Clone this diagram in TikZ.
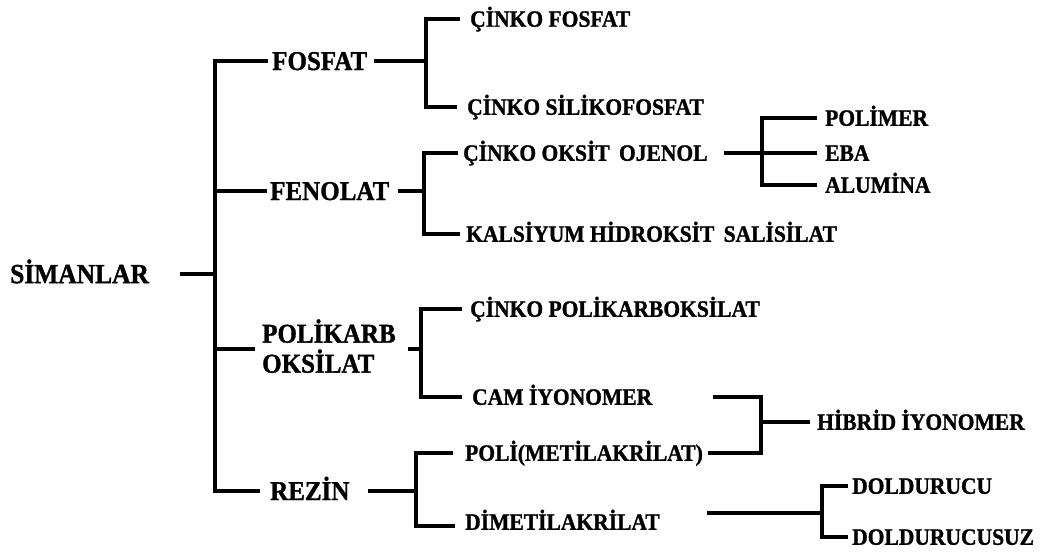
\documentclass[tikz,border=0pt]{standalone}
\usepackage{fontspec}
\setmainfont{Liberation Serif}[BoldFeatures={FakeStretch=0.92,FakeBold=1.2}]
\begin{document}
\begin{tikzpicture}[x=1pt,y=-1pt,
  link/.style={line width=3.4pt,line join=miter},
  lbl/.style={inner sep=0pt,anchor=west,text depth=0pt},
  top/.style={lbl,font=\fontsize{27.7}{30}\selectfont\bfseries,text height=18.3pt},
  big/.style={lbl,font=\fontsize{27.2}{30}\selectfont\bfseries,text height=18pt},
  small/.style={lbl,font=\fontsize{23.4}{26}\selectfont\bfseries,text height=15.5pt}]
\useasboundingbox (0,0) rectangle (1045,554);

% labels
\node[top]   (root)     at (10,274)  {SİMANLAR};
\node[big]   (fosfat)   at (272,61)  {FOSFAT};
\node[big]   (fenolat)  at (270,191) {FENOLAT};
\node[lbl,font=\fontsize{27.2}{30}\selectfont\bfseries,align=left]
             (polikarb) at (262,346) {POLİKARB\\OKSİLAT};
\node[big]   (rezin)    at (270,491) {REZİN};

\node[small] (cfosfat)  at (470,19)  {ÇİNKO FOSFAT};
\node[small] (csiliko)  at (467,107) {ÇİNKO SİLİKOFOSFAT};
\node[small] (coj)      at (463,153) {ÇİNKO OKSİT\, OJENOL};
\node[small] (kalsiyum) at (466,234) {KALSİYUM HİDROKSİT\, SALİSİLAT};
\node[small] (cpoli)    at (470,309) {ÇİNKO POLİKARBOKSİLAT};
\node[small] (cam)      at (472,397) {CAM İYONOMER};
\node[small] (pmma)     at (465,453) {POLİ(METİLAKRİLAT)};
\node[small] (dimet)    at (465,522) {DİMETİLAKRİLAT};

\node[small] (polimer)  at (825,118) {POLİMER};
\node[small] (eba)      at (825,153) {EBA};
\node[small] (alumina)  at (825,185) {ALUMİNA};
\node[small] (hibrid)   at (817,422) {HİBRİD İYONOMER};
\node[small] (dold)     at (852,486) {DOLDURUCU};
\node[small] (doldsuz)  at (852,537) {DOLDURUCUSUZ};

% junction points of the brackets
\coordinate (J0) at (215,274);
\coordinate (J1) at (426,61);
\coordinate (J2) at (424,191);
\coordinate (J3) at (421,349);
\coordinate (J4) at (416,491);
\coordinate (J5) at (762,153);
\coordinate (J6) at (761,422);
\coordinate (J7) at (822,513);

% SİMANLAR
\draw[link] (180,274) coordinate (r0) -- (J0);
\draw[link] ([xshift=-4pt]fosfat.west) -| (J0 |- rezin.west) -- ([xshift=-10pt]rezin.west);
\draw[link] (J0 |- fenolat.west) -- ([xshift=-3pt]fenolat.west);
\draw[link] (J0 |- J3) -- ([xshift=-7pt]polikarb.west |- J3);

% FOSFAT
\draw[link] ([xshift=7pt]fosfat.east) -- (J1);
\draw[link] ([xshift=-10pt]cfosfat.west) -| (J1 |- csiliko.west) -- ([xshift=-10pt]csiliko.west);

% FENOLAT
\draw[link] ([xshift=8pt]fenolat.east) -- (J2);
\draw[link] ([xshift=-5pt]coj.west) -| (J2 |- kalsiyum.west) -- ([xshift=-6pt]kalsiyum.west);

% ÇİNKO OKSİT OJENOL
\draw[link] ([xshift=16pt]coj.east) -- (J5);
\draw[link] ([xshift=-8pt]polimer.west) -| (J5 |- alumina.west) -- ([xshift=-8pt]alumina.west);
\draw[link] (J5) -- ([xshift=-8pt]eba.west);

% POLİKARBOKSİLAT
\draw[link] ([xshift=12pt]polikarb.east |- J3) -- (J3);
\draw[link] ([xshift=-8pt]cpoli.west) -| (J3 |- cam.west) -- ([xshift=-10pt]cam.west);

% REZİN
\draw[link] ([xshift=18pt]rezin.east) -- (J4);
\draw[link] ([xshift=-12pt]pmma.west) -| (J4 |- 0,526) -- ([xshift=-10pt]dimet.west |- 0,526);

% HİBRİD İYONOMER
\draw[link] ([xshift=61pt]cam.east) -| (J6 |- pmma.east) -- ([xshift=5pt]pmma.east);
\draw[link] (J6) -- ([xshift=-7pt]hibrid.west);

% DİMETİLAKRİLAT
\draw[link] ([xshift=47pt]dimet.east |- J7) -- (J7);
\draw[link] ([xshift=-4pt]dold.west) -| (J7 |- doldsuz.west) -- ([xshift=-4pt]doldsuz.west);
\end{tikzpicture}
\end{document}
